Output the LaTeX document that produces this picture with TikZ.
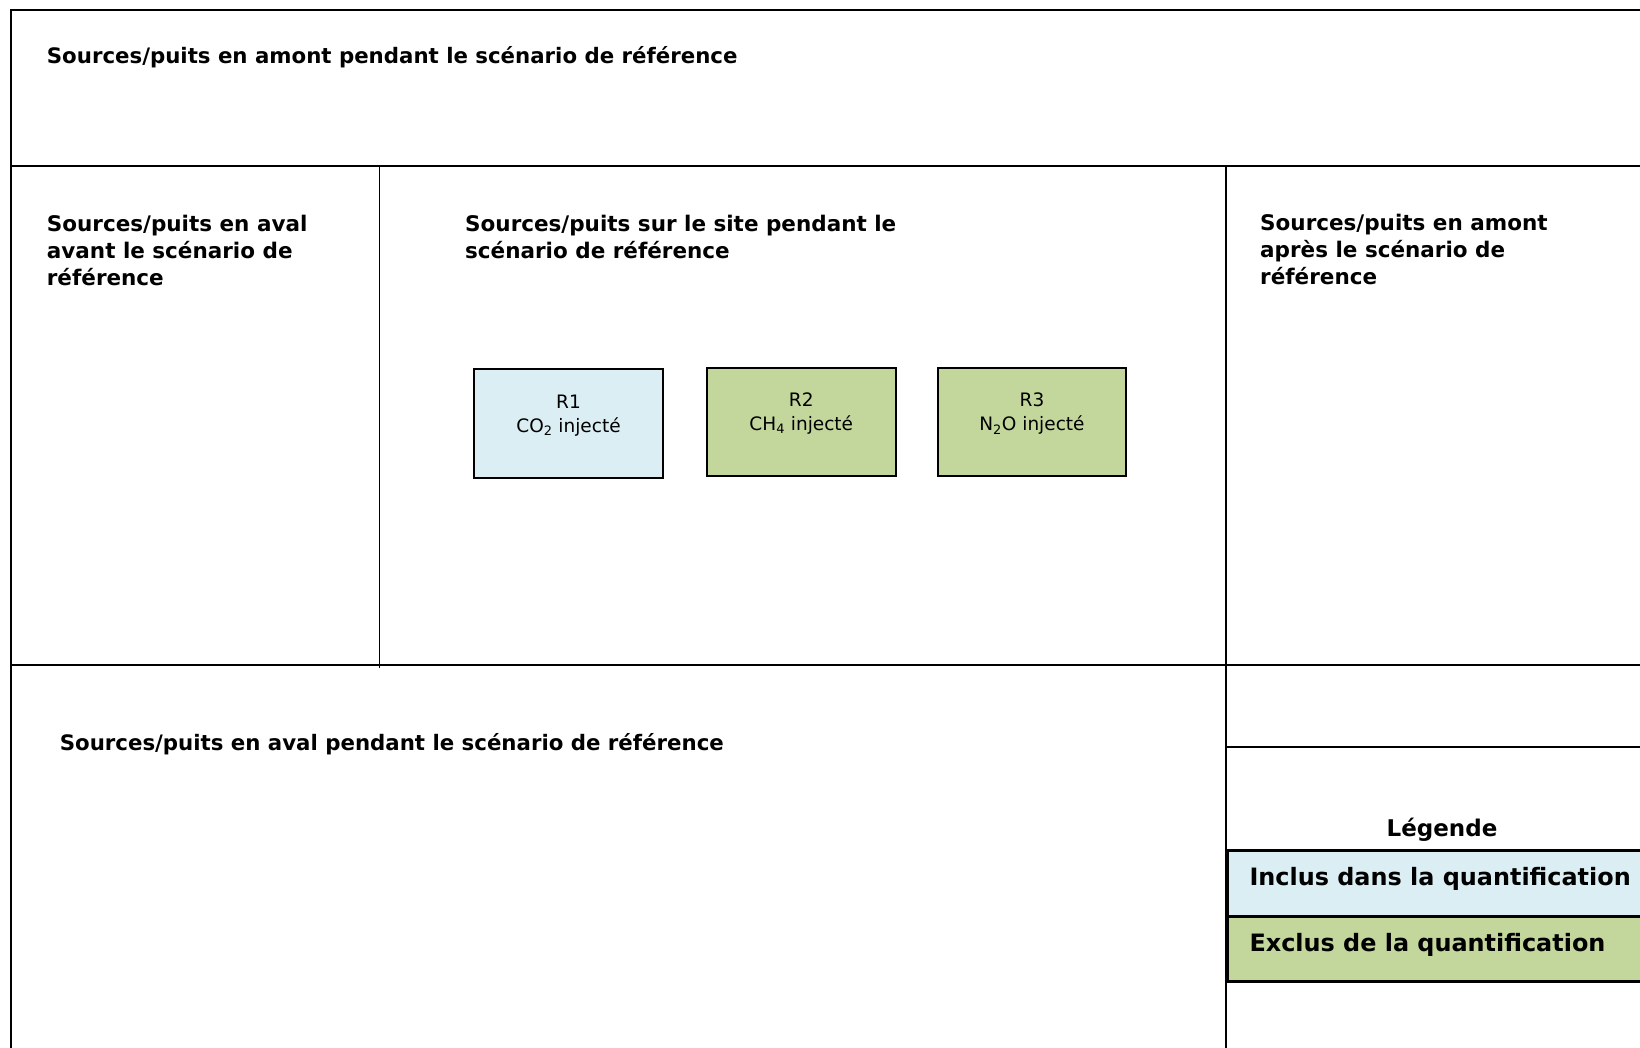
\documentclass[tikz,border=0pt]{standalone}
\usepackage{fontspec}
\setmainfont{DejaVu Sans}
\usetikzlibrary{calc}

\definecolor{incl}{HTML}{DAEEF3}
\definecolor{excl}{HTML}{C3D69B}

\tikzset{
  frame/.style={line width=1.7pt, draw=black},
  heading/.style={font=\bfseries\fontsize{21.5}{27.3}\selectfont, anchor=base west, inner sep=0pt},
  wide heading/.style={heading, font=\bfseries\fontsize{21.3}{27.3}\selectfont},
  legtext/.style={font=\bfseries\fontsize{23.9}{28}\selectfont, anchor=base west, inner sep=0pt},
  srcbox/.style={draw=black, line width=2pt, minimum width=189pt, minimum height=109pt,
                 inner sep=0pt, anchor=north west},
  srctext/.style={font=\fontsize{18.5}{24}\selectfont, anchor=base, inner sep=0pt},
  legrow/.style={draw=black, line width=3pt, minimum width=430pt, inner sep=0pt, anchor=north west},
}

\newcommand{\lines}[2]{\begin{tabular}[t]{@{}#1@{}}#2\end{tabular}}

\begin{document}
\begin{tikzpicture}[x=1pt,y=-1pt]
  \useasboundingbox (0,0) rectangle (1640,1047);
  \clip (0,0) rectangle (1640,1047);
  \fill[white] (0,0) rectangle (1640,1047);

  % grid of the zones
  \draw[frame] (10,10) -- (1650,10);
  \draw[frame] (11.3,10) -- (11.3,1050);
  \draw[frame] (11.3,166) -- (1650,166);
  \draw[frame] (379.5,166) -- (379.5,667.5);
  \draw[frame] (1225.7,166) -- (1225.7,1050);
  \draw[frame] (11.3,665.3) -- (1650,665.3);
  \draw[frame] (1225.7,746.7) -- (1650,746.7);

  % zone headings
  \node[wide heading] (hup) at (46.7,63.3)
    {Sources/puits en amont pendant le scénario de référence};
  \node[heading] (hbefore) at (46.7,231)
    {\lines{l}{Sources/puits en aval\\avant le scénario de\\référence}};
  \node[heading] (hsite) at (465,231)
    {\lines{l}{Sources/puits sur le site pendant le\\scénario de référence}};
  \node[heading] (hafter) at (1260,230)
    {\lines{l}{Sources/puits en amont\\après le scénario de\\référence}};
  \node[wide heading] (hdown) at (59.6,750)
    {Sources/puits en aval pendant le scénario de référence};

  % sources / sinks on site
  \node[srcbox, fill=incl, minimum width=189.6pt, minimum height=109pt] (r1) at (472.7,368.3) {};
  \node[srcbox, fill=excl, minimum width=188.5pt, minimum height=108.5pt] (r2) at (706,366.5) {};
  \node[srcbox, fill=excl, minimum width=188.5pt, minimum height=108.5pt] (r3) at (936.7,366.5) {};
  \node[srctext] (r1t) at ($(r1.north)+(0,40)$) {\lines{c}{R1\\CO\textsubscript{2} injecté}};
  \node[srctext] (r2t) at ($(r2.north)+(0,40)$) {\lines{c}{R2\\CH\textsubscript{4} injecté}};
  \node[srctext] (r3t) at ($(r3.north)+(0,40)$) {\lines{c}{R3\\N\textsubscript{2}O injecté}};

  % legend
  \node[legtext, font=\bfseries\fontsize{23}{28}\selectfont, anchor=base] (leg) at (1442,836.7) {Légende};
  \node[legrow, fill=incl, minimum height=66pt] (inc) at (1225.5,849) {};
  \node[legrow, fill=excl, minimum height=64.5pt] (exc) at (1225.5,915) {};
  \node[legtext] (inct) at (1249.3,885.5) {Inclus dans la quantification};
  \node[legtext] (exct) at (1249.3,951.5) {Exclus de la quantification};
\end{tikzpicture}
\end{document}
